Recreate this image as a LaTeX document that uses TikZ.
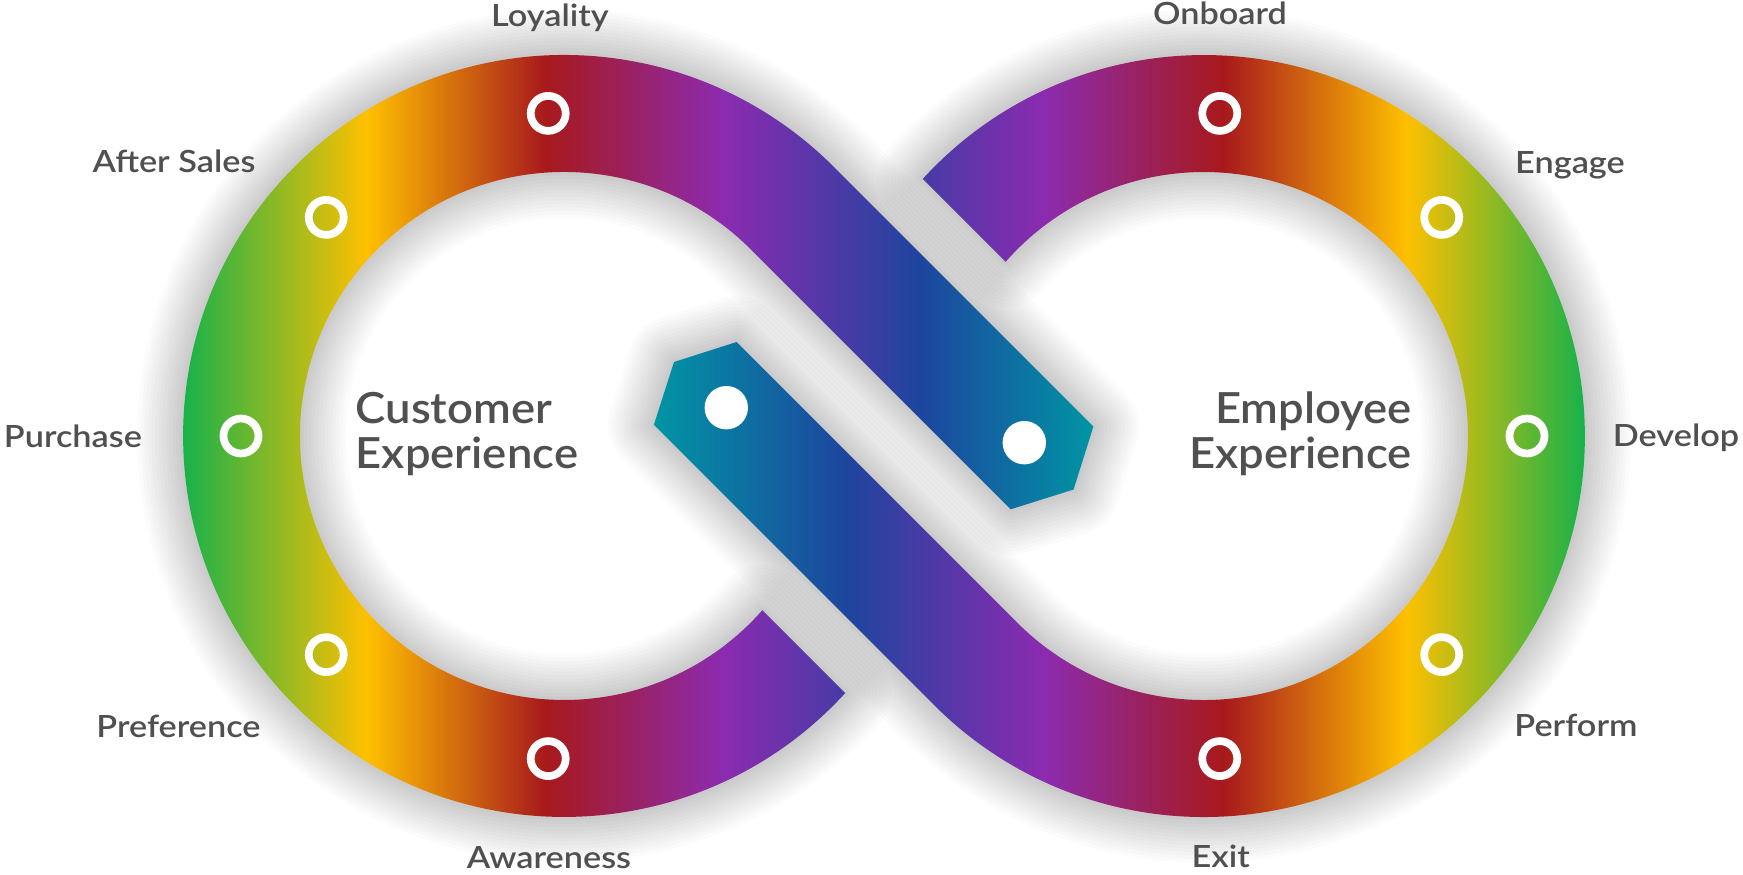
\documentclass[tikz,border=0pt]{standalone}
\usepackage{fontspec}
\setmainfont{Lato}
\newfontfamily\lblfont{Lato Semibold}[FakeStretch=1.12]
\newfontfamily\bigfont{Lato Semibold}[FakeStretch=1.06]

\definecolor{cgreen}{HTML}{17B24A}
\definecolor{cgold}{HTML}{FFC000}
\definecolor{cred}{HTML}{A8191C}
\definecolor{cpurple}{HTML}{8B2BB0}
\definecolor{cblue}{HTML}{1D459E}
\definecolor{cteal}{HTML}{0095A4}
\definecolor{labelgray}{HTML}{505050}

\pgfdeclarehorizontalshading{custshade}{100bp}{color(0bp)=(cgreen); color(25bp)=(cgreen); color(35.1bp)=(cgold); color(44.9bp)=(cred); color(54.7bp)=(cpurple); color(65.5bp)=(cblue); color(75bp)=(cteal); color(100bp)=(cteal)}
\pgfdeclarehorizontalshading{emplshade}{100bp}{color(0bp)=(cteal); color(25bp)=(cteal); color(35.4bp)=(cblue); color(45.9bp)=(cpurple); color(55.6bp)=(cred); color(65.4bp)=(cgold); color(75bp)=(cgreen); color(100bp)=(cgreen)}

\tikzset{
  custloop/.style={insert path={(-0.388,-2.571) arc[start angle=317.55, end angle=45, radius=3.81]
      -- (2.094,0.094) -- (1.896,-0.535) -- (1.267,-0.733) -- (-1.333,1.867)
      arc[start angle=45, end angle=318.69, radius=2.64] -- cycle}},
  emplloop/.style={insert path={(0.388,2.571) arc[start angle=137.55, end angle=-135, radius=3.81]
      -- (-2.301,0.113) -- (-2.1,0.74) -- (-1.474,0.94) -- (1.333,-1.867)
      arc[start angle=-135, end angle=138.69, radius=2.64] -- cycle}},
  halo/.style={draw=black, opacity=0.015, line join=round},
  ringmark/.style={circle, draw=white, line width=2.2pt, minimum size=0.35cm, inner sep=0pt},
  tagdot/.style={circle, fill=white, minimum size=0.434cm, inner sep=0pt},
  lbl/.style={font=\lblfont\fontsize{8.7}{10}\selectfont, text=labelgray, anchor=base, inner sep=0pt},
  bigtxt/.style={font=\bigfont\fontsize{12.2}{14}\selectfont, text=labelgray, inner sep=0pt}
}

\begin{document}
\begin{tikzpicture}[x=1cm,y=1cm]
  \useasboundingbox (-8.84,-4.39) rectangle (8.59,4.36);
  \fill[white] (-8.84,-4.39) rectangle (8.59,4.36);

  % soft shadow round both halves
  \foreach \w in {2,4,...,26} {
    \draw[halo, line width=\w pt] [custloop];
    \draw[halo, line width=\w pt] [emplloop];
  }

  \begin{scope}
    \clip [custloop];
    \shade[shading=custshade] (-7.01,-3.82) rectangle (2.094,3.82);
  \end{scope}
  \begin{scope}
    \clip [emplloop];
    \shade[shading=emplshade] (-2.301,-3.82) rectangle (7.01,3.82);
  \end{scope}

  \node[tagdot] (custdot) at (1.403,-0.067) {};
  \node[tagdot] (empldot) at (-1.577,0.283) {};

  % stages on the customer loop
  \begin{scope}[shift={(-3.2,0)}]
    \node[ringmark] (mloyal) at (92.8:3.23) {};
    \node[ringmark] (mafter) at (137.4:3.23) {};
    \node[ringmark] (mpurch) at (180:3.23) {};
    \node[ringmark] (mpref) at (222.6:3.23) {};
    \node[ringmark] (maware) at (267.2:3.23) {};
  \end{scope}
  % stages on the employee loop
  \begin{scope}[shift={(3.2,0)}]
    \node[ringmark] (monboard) at (87.2:3.23) {};
    \node[ringmark] (mengage) at (42.6:3.23) {};
    \node[ringmark] (mdevelop) at (0:3.23) {};
    \node[ringmark] (mperform) at (-42.6:3.23) {};
    \node[ringmark] (mexit) at (-87.2:3.23) {};
  \end{scope}

  \node[lbl] (tloyal) at (-3.34,4.09) {Loyality};
  \node[lbl] (tafter) at (-7.10,2.63) {After Sales};
  \node[lbl] (tpurch) at (-8.11,-0.115) {Purchase};
  \node[lbl] (tpref) at (-7.055,-3.017) {Preference};
  \node[lbl] (taware) at (-3.35,-4.323) {Awareness};
  \node[lbl] (tonboard) at (3.36,4.11) {Onboard};
  \node[lbl] (tengage) at (6.86,2.62) {Engage};
  \node[lbl] (tdevelop) at (7.92,-0.107) {Develop};
  \node[lbl] (tperform) at (6.92,-3.007) {Perform};
  \node[lbl] (texit) at (3.367,-4.31) {Exit};

  \node[bigtxt, anchor=base west] (cust1) at (-5.29,0.127) {Customer};
  \node[bigtxt, anchor=base west] (cust2) at (-5.29,-0.33) {Experience};
  \node[bigtxt, anchor=base east] (empl1) at (5.285,0.127) {Employee};
  \node[bigtxt, anchor=base east] (empl2) at (5.285,-0.33) {Experience};
\end{tikzpicture}
\end{document}
